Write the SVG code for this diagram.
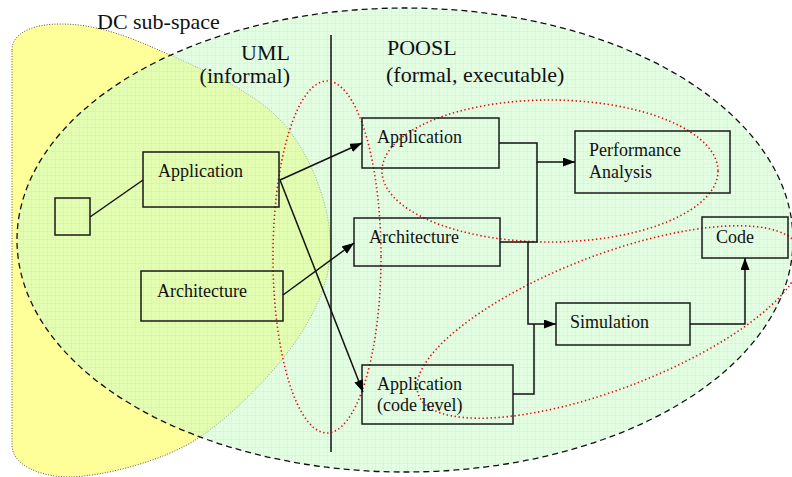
<svg xmlns="http://www.w3.org/2000/svg" width="792" height="477" viewBox="0 0 792 477">
  <style>
    text { font-family: 'Liberation Serif', 'DejaVu Serif', 'Times New Roman', serif; fill: #111; }
    .lbl { font-size: 22px; }
    .txt { font-size: 18px; }
    .box { fill: none; stroke: #1a1a1a; stroke-width: 1.5; }
    .wire { fill: none; stroke: #111; stroke-width: 1.5; }
    .group { fill: none; stroke: #e01010; stroke-width: 1.6; stroke-dasharray: 1.4 2.6; }
  </style>
  <defs>
    <pattern id="grid" width="8" height="8" patternUnits="userSpaceOnUse">
      <path d="M4 0V8M0 4H8" stroke="#9fe49f" stroke-width="0.6" opacity="0.25"/>
      <path d="M8 0V8M0 8H8" stroke="#8fdc8f" stroke-width="1" opacity="0.35"/>
    </pattern>
    <marker id="arrow" markerUnits="userSpaceOnUse" markerWidth="13" markerHeight="10" refX="12" refY="4.5" orient="auto">
      <path d="M0,0 L12,4.5 L0,9 Z" fill="#000"/>
    </marker>
  </defs>

  <!-- DC sub-space (yellow region) -->
  <g id="dc-subspace">
    <path d="M12,50 C12,32 35,24 60,24 C100,24 133,38.5 170,55 C207,71.5 256.3,93 283,123 C309.7,153 327.2,199.7 330,235 C332.8,270.3 321.7,301.3 300,335 C278.3,368.7 235,413.3 200,437 C165,460.7 105,476 70,477 C40,477 12,465 12,445 Z" fill="#ffff99" stroke="#555" stroke-width="1" stroke-dasharray="1 1.6"/>
    <text class="lbl" x="97" y="29" font-family="Liberation Serif, serif">DC sub-space</text>
  </g>

  <!-- Design space (green region with grid) -->
  <g id="design-space">
    <ellipse cx="405" cy="240" rx="388" ry="232" fill="#ccffcc" fill-opacity="0.5"/>
    <ellipse cx="405" cy="240" rx="388" ry="232" fill="url(#grid)"/>
    <ellipse cx="405" cy="240" rx="388" ry="232" fill="none" stroke="#111" stroke-width="1.3" stroke-dasharray="6 4"/>
  </g>

  <!-- UML / POOSL divider and headings -->
  <g id="divider">
    <line x1="331" y1="35" x2="331" y2="452" stroke="#111" stroke-width="1.5"/>
    <text class="lbl" x="290" y="60" text-anchor="end">UML</text>
    <text class="lbl" x="290" y="83" text-anchor="end">(informal)</text>
    <text class="lbl" x="387" y="55">POOSL</text>
    <text class="lbl" x="386" y="82">(formal, executable)</text>
  </g>

  <!-- Red dotted groupings -->
  <g id="groupings">
    <ellipse class="group" cx="327" cy="257" rx="54" ry="176"/>
    <ellipse class="group" cx="550" cy="171" rx="168" ry="71"/>
    <ellipse class="group" cx="609" cy="322" rx="204" ry="67" transform="rotate(-21 609 322)"/>
  </g>

  <!-- Nodes -->
  <g id="component">
    <rect class="box" x="55" y="198" width="35" height="37"/>
  </g>
  <g id="uml-application">
    <rect class="box" x="143" y="152" width="136" height="55"/>
    <text class="txt" x="158" y="177">Application</text>
  </g>
  <g id="uml-architecture">
    <rect class="box" x="141" y="271" width="142" height="50"/>
    <text class="txt" x="157" y="297">Architecture</text>
  </g>
  <g id="poosl-application">
    <rect class="box" x="362" y="118" width="137" height="50"/>
    <text class="txt" x="377" y="143">Application</text>
  </g>
  <g id="poosl-architecture">
    <rect class="box" x="354" y="218" width="146" height="48"/>
    <text class="txt" x="369" y="243">Architecture</text>
  </g>
  <g id="poosl-application-code">
    <rect class="box" x="362" y="365" width="151" height="59"/>
    <text class="txt" x="377" y="390">Application</text>
    <text class="txt" x="377" y="411">(code level)</text>
  </g>
  <g id="performance-analysis">
    <rect class="box" x="575" y="131" width="155" height="62"/>
    <text class="txt" x="589" y="156">Performance</text>
    <text class="txt" x="589" y="178">Analysis</text>
  </g>
  <g id="simulation">
    <rect class="box" x="556" y="303" width="134" height="42"/>
    <text class="txt" x="570" y="328">Simulation</text>
  </g>
  <g id="code">
    <rect class="box" x="702" y="217" width="86" height="41"/>
    <text class="txt" x="716" y="243">Code</text>
  </g>

  <!-- Connectors -->
  <g id="connectors">
    <path class="wire" d="M90,217 L143,180"/>
    <path class="wire" d="M280,180 L362,143" marker-end="url(#arrow)"/>
    <path class="wire" d="M280,180 L363,392" marker-end="url(#arrow)"/>
    <path class="wire" d="M283,295 L354,243" marker-end="url(#arrow)"/>
    <path class="wire" d="M499,143 H537 V162 H575" marker-end="url(#arrow)"/>
    <path class="wire" d="M500,242 H537 V162"/>
    <path class="wire" d="M528,242 V324 H556" marker-end="url(#arrow)"/>
    <path class="wire" d="M513,394 H534 V324"/>
    <path class="wire" d="M690,324 H745 V258" marker-end="url(#arrow)"/>
  </g>
</svg>
